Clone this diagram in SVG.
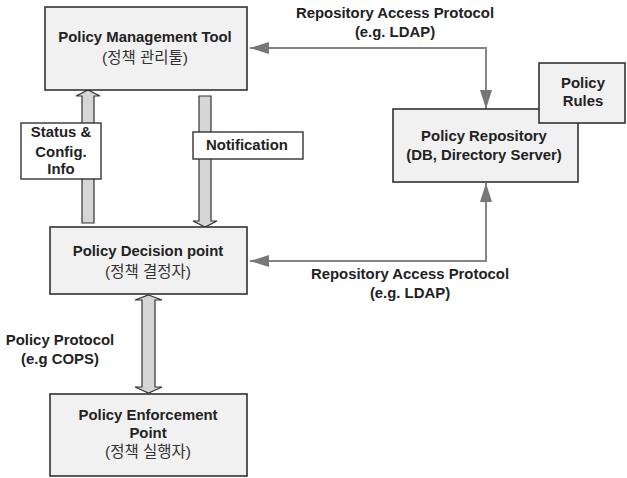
<svg xmlns="http://www.w3.org/2000/svg" width="627" height="478" viewBox="0 0 627 478">
<style>
.box{fill:#f1f1f1;stroke:#333;stroke-width:1.6}
.lbl{fill:#fff;stroke:#333;stroke-width:1.4}
.blk{fill:#d6d6d6;stroke:#333;stroke-width:1.2;stroke-linejoin:miter}
.ln{fill:none;stroke:#858585;stroke-width:2}
.t{font-family:"Liberation Sans",Arial,sans-serif;font-weight:bold;font-size:14.9px;fill:#222;text-anchor:middle}
.k{font-family:"Liberation Sans","Noto Sans CJK KR",sans-serif;font-size:15.5px;fill:#333;text-anchor:middle}
</style>
<defs>
<marker id="ah" markerUnits="userSpaceOnUse" markerWidth="20" markerHeight="14" viewBox="0 0 20 14" refX="19" refY="7" orient="auto">
<path d="M0,1 L19,7 L0,13 Z" fill="#777"/>
</marker>
</defs>
<rect width="627" height="478" fill="#fff"/>
<g id="connectors">
<path class="ln" d="M486,48 H250" marker-end="url(#ah)"/>
<path class="ln" d="M486,47 V109" marker-end="url(#ah)"/>
<path class="ln" d="M486,262 V183" marker-end="url(#ah)"/>
<path class="ln" d="M487,261 H250" marker-end="url(#ah)"/>
<path id="status-arrow" class="blk" d="M82,223 L82,96 L76,96 L88,90 L100,96 L94,96 L94,223 Z"/>
<path id="notification-arrow" class="blk" d="M199,96 L211,96 L211,221 L217,221 L205,227 L193,221 L199,221 Z"/>
<path id="protocol-arrow" class="blk" d="M148.5,295 L162,300 L155,300 L155,387 L162,387 L148.5,393 L135,387 L142,387 L142,300 L135,300 Z"/>
<text class="t" x="395" y="18">Repository Access Protocol</text>
<text class="t" x="395" y="37">(e.g. LDAP)</text>
<text class="t" x="410" y="279">Repository Access Protocol</text>
<text class="t" x="410" y="298">(e.g. LDAP)</text>
<text class="t" x="60" y="345">Policy Protocol</text>
<text class="t" x="60" y="364">(e.g COPS)</text>
</g>
<g id="status-label">
<rect class="lbl" x="21" y="123" width="80" height="56"/>
<text class="t" x="61" y="137">Status &amp;</text>
<text class="t" x="61" y="157">Config.</text>
<text class="t" x="61" y="174">Info</text>
</g>
<g id="notification-label">
<rect class="lbl" x="193" y="132" width="110" height="27"/>
<text class="t" x="247" y="150">Notification</text>
</g>
<g id="policy-management-tool">
<rect class="box" x="45" y="7" width="202" height="83"/>
<text class="t" x="145" y="42">Policy Management Tool</text>
<text class="k" x="145" y="63">(정책 관리툴)</text>
</g>
<g id="policy-decision-point">
<rect class="box" x="50" y="227" width="197" height="67"/>
<text class="t" x="148" y="256">Policy Decision point</text>
<text class="k" x="148" y="277">(정책 결정자)</text>
</g>
<g id="policy-enforcement-point">
<rect class="box" x="50" y="394" width="197" height="82"/>
<text class="t" x="148" y="420">Policy Enforcement</text>
<text class="t" x="148" y="438">Point</text>
<text class="k" x="148" y="457">(정책 실행자)</text>
</g>
<g id="policy-repository">
<rect class="box" x="393" y="109" width="185" height="73"/>
<text class="t" x="484" y="141">Policy Repository</text>
<text class="t" x="484" y="160">(DB, Directory Server)</text>
</g>
<g id="policy-rules">
<rect class="box" x="539" y="63" width="86" height="60"/>
<text class="t" x="583" y="88">Policy</text>
<text class="t" x="583" y="106">Rules</text>
</g>
</svg>
